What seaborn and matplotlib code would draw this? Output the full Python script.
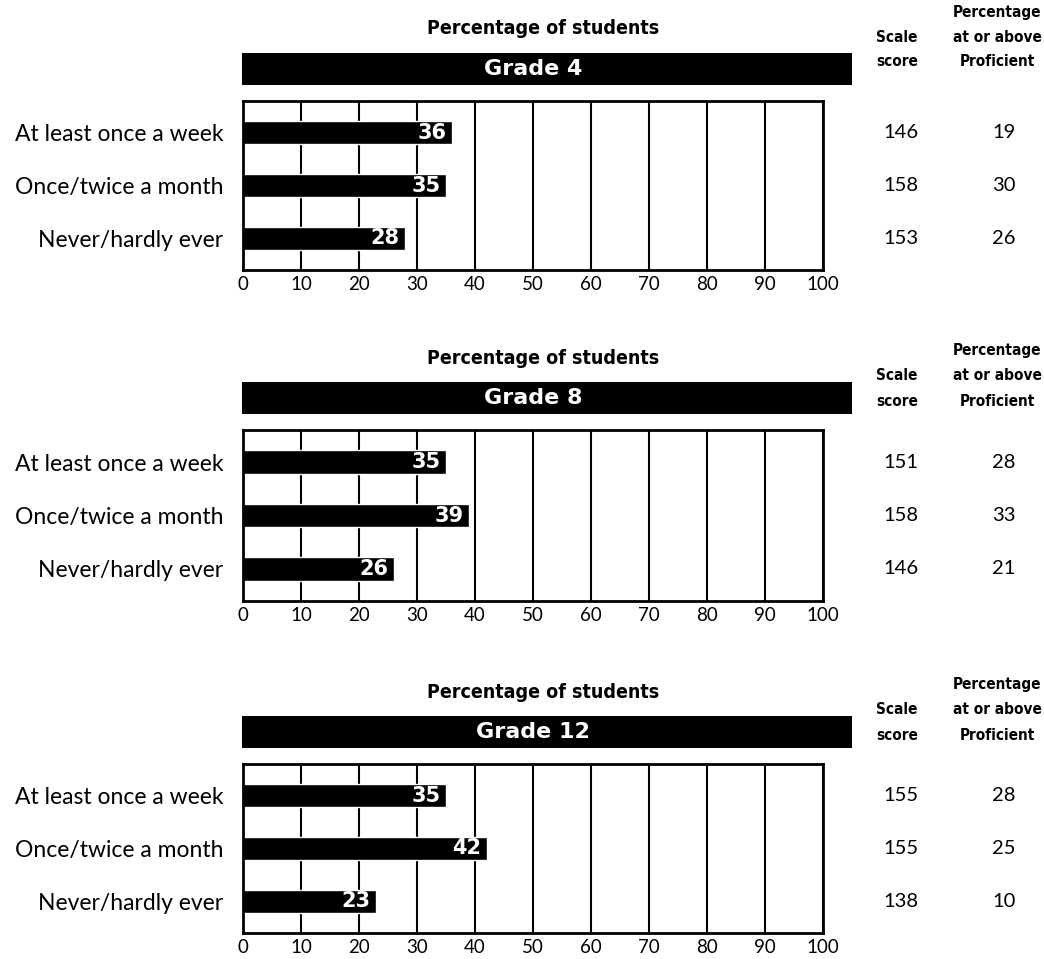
import numpy as np
import pandas as pd
import seaborn as sns
import matplotlib
matplotlib.use("Agg")
import matplotlib.pyplot as plt
from matplotlib import font_manager
from matplotlib.transforms import blended_transform_factory

# data
categories = ["At least once a week", "Once/twice a month", "Never/hardly ever"]
grades = ["Grade 4", "Grade 8", "Grade 12"]
pct_g4 = [36, 35, 28]
pct_g8 = [35, 39, 26]
pct_g12 = [35, 42, 23]
scale_g4 = [146, 158, 153]
scale_g8 = [151, 158, 146]
scale_g12 = [155, 155, 138]
prof_g4 = [19, 30, 26]
prof_g8 = [28, 33, 21]
prof_g12 = [28, 25, 10]
xticks = [0, 10, 20, 30, 40, 50, 60, 70, 80, 90, 100]

pct = [pct_g4, pct_g8, pct_g12]
scale = [scale_g4, scale_g8, scale_g12]
prof = [prof_g4, prof_g8, prof_g12]

sns.set_style("white")
plt.rcParams['font.family'] = ['Lato', 'DejaVu Sans']
plt.rcParams['text.color'] = 'black'
plt.rcParams['xtick.color'] = 'black'
plt.rcParams['ytick.color'] = 'black'

# look for a bold narrow/condensed face for the headings
narrow_file = None
for f in font_manager.fontManager.ttflist:
    fn = f.fname.lower()
    if ('narrow' in fn or 'condensed' in fn) and 'bold' in fn and 'italic' not in fn and 'oblique' not in fn:
        narrow_file = f.fname
        break
if narrow_file:
    def hfont(size):
        return font_manager.FontProperties(fname=narrow_file, size=size)
    tsize, csize = 14, 11
else:
    def hfont(size):
        return font_manager.FontProperties(family='DejaVu Sans', weight='bold', size=size)
    tsize, csize = 12, 9

W, H = 1044, 959
fig = plt.figure(figsize=(W / 100, H / 100), dpi=100)

# pixel layout of each panel: axes top / bottom, header offsets
tops = [101, 430, 764]
bottoms = [270, 601, 933]
hdr_off = [(-40, -15, 9), (-31, -6, 19), (-31, -6, 19)]

for i in range(3):
    T, B = tops[i], bottoms[i]
    ax = fig.add_axes([243 / W, 1 - B / H, 580 / W, (B - T) / H])
    df = pd.DataFrame({'cat': categories, 'pct': pct[i]})
    sns.barplot(data=df, x='pct', y='cat', color='black', width=0.44,
                saturation=1, orient='h', ax=ax)
    ax.set_xlim(0, 100)
    ax.set_ylim(2.6, -0.6)
    ax.set_xticks(xticks)
    ax.set_xticklabels([str(t) for t in xticks], fontsize=13.5)
    ax.tick_params(axis='x', length=0, pad=4)
    ax.tick_params(axis='y', length=0, pad=14, labelsize=16.5)
    ax.set_xlabel('')
    ax.set_ylabel('')
    ax.grid(axis='x', color='black', lw=1.5)
    ax.set_axisbelow(True)
    for s in ax.spines.values():
        s.set_color('black')
        s.set_linewidth(2)
    for p, v in zip(ax.patches, pct[i]):
        ax.annotate(str(v), (p.get_width(), p.get_y() + p.get_height() / 2),
                    xytext=(-4, 0), textcoords='offset points', ha='right',
                    va='center', color='white', fontsize=15, fontweight='bold',
                    family='DejaVu Sans')

    # black header bar with grade
    htop = T - 48
    hax = fig.add_axes([242 / W, 1 - (T - 16) / H, 610 / W, 32 / H])
    hax.set_facecolor('black')
    hax.set_xticks([])
    hax.set_yticks([])
    for s in hax.spines.values():
        s.set_visible(False)
    fig.text(533 / W, 1 - (htop + 16) / H, grades[i], color='white',
             fontsize=16, fontweight='bold', ha='center', va='center',
             family='DejaVu Sans')
    fig.text(543 / W, 1 - (htop - 24) / H, 'Percentage of students',
             fontproperties=hfont(tsize), ha='center', va='center')

    # right-hand columns
    o1, o2, o3 = hdr_off[i]
    fig.text(997 / W, 1 - (htop + o1) / H, 'Percentage',
             fontproperties=hfont(csize), ha='center', va='center')
    fig.text(997 / W, 1 - (htop + o2) / H, 'at or above',
             fontproperties=hfont(csize), ha='center', va='center')
    fig.text(997 / W, 1 - (htop + o3) / H, 'Proficient',
             fontproperties=hfont(csize), ha='center', va='center')
    fig.text(897 / W, 1 - (htop + o2) / H, 'Scale',
             fontproperties=hfont(csize), ha='center', va='center')
    fig.text(897 / W, 1 - (htop + o3) / H, 'score',
             fontproperties=hfont(csize), ha='center', va='center')

    tr = blended_transform_factory(fig.transFigure, ax.transData)
    for k in range(3):
        ax.text(901 / W, k, str(scale[i][k]), transform=tr, ha='center',
                va='center', fontsize=14.5, clip_on=False)
        ax.text(1004 / W, k, str(prof[i][k]), transform=tr, ha='center',
                va='center', fontsize=14.5, clip_on=False)

fig.savefig('out.png', dpi=100)
